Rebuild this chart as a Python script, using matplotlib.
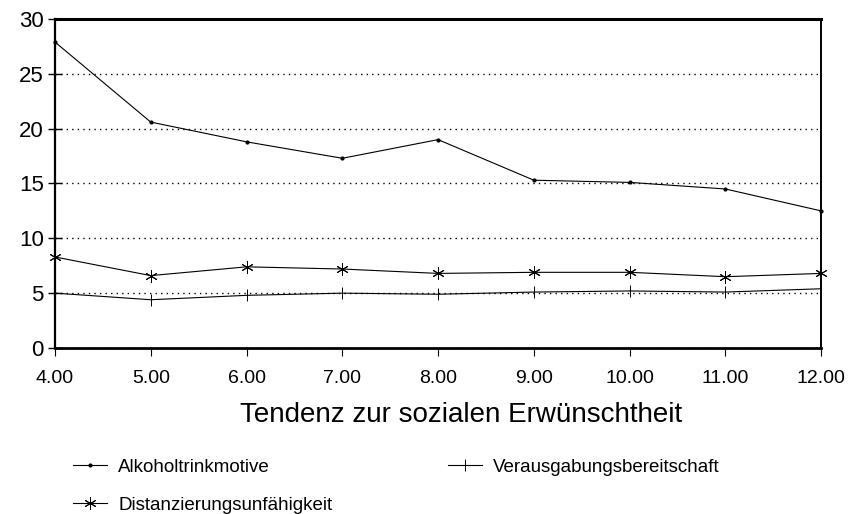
import matplotlib.pyplot as plt

plt.rcParams['font.family'] = ['Liberation Sans', 'DejaVu Sans']

# Daten
x_werte = [4, 5, 6, 7, 8, 9, 10, 11, 12]
x_labels = ["4.00", "5.00", "6.00", "7.00", "8.00", "9.00", "10.00", "11.00", "12.00"]
alkohol = [27.9, 20.6, 18.8, 17.3, 19.0, 15.3, 15.1, 14.5, 12.5]
distanz = [8.3, 6.6, 7.4, 7.2, 6.8, 6.9, 6.9, 6.5, 6.8]
verausgabung = [5.0, 4.4, 4.8, 5.0, 4.9, 5.1, 5.2, 5.1, 5.4]
y_ticks = [0, 5, 10, 15, 20, 25, 30]

fig = plt.figure(figsize=(8.51, 5.14), dpi=100)
ax = fig.add_axes([0.0646, 0.323, 0.9004, 0.640])

ax.plot(x_werte, alkohol, color="black", lw=0.8, marker=".", ms=4,
        label="Alkoholtrinkmotive", clip_on=False)
ax.plot(x_werte, distanz, color="black", lw=0.8, marker=(6, 2, 0), ms=9, mew=0.7,
        label="Distanzierungsunfähigkeit", clip_on=False)
ax.plot(x_werte, verausgabung, color="black", lw=0.8, marker="|", ms=9, mew=0.7,
        label="Verausgabungsbereitschaft", clip_on=False)

ax.set_xlim(4, 12)
ax.set_ylim(0, 30)
ax.set_xticks(x_werte)
ax.set_xticklabels(x_labels, fontsize=14)
ax.set_yticks(y_ticks)
ax.tick_params(axis="y", labelsize=16, direction="inout", length=10, width=1, pad=3)
ax.tick_params(axis="x", direction="out", length=6, width=0.8, pad=10)

ax.grid(axis="y", linestyle=(0, (1, 3)), color="black", lw=1)
ax.set_axisbelow(True)

ax.spines["top"].set_linewidth(2.2)
ax.spines["bottom"].set_linewidth(2.0)
ax.spines["left"].set_linewidth(1.6)
ax.spines["right"].set_linewidth(1.4)

ax.set_xlabel("Tendenz zur sozialen Erwünschtheit", fontsize=20)
ax.xaxis.set_label_coords(0.53, -0.165)

leg = fig.legend(loc="upper left", bbox_to_anchor=(0.066, 0.14), ncol=2,
                 frameon=False, fontsize=13.5, handlelength=1.8, handletextpad=0.6,
                 columnspacing=6.2, labelspacing=1.1)

fig.savefig("out.png", dpi=100)
